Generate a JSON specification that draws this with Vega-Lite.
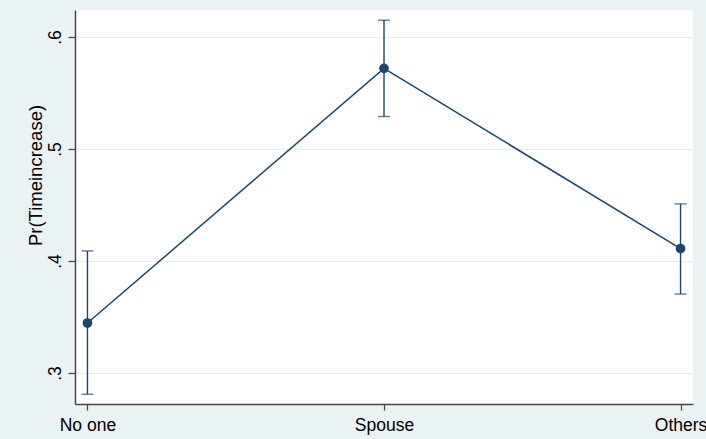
{
  "$schema": "https://vega.github.io/schema/vega-lite/v6.json",
  "autosize": {"type": "none"},
  "width": 618,
  "height": 394,
  "padding": {"left": 75, "top": 10, "right": 13, "bottom": 35},
  "background": "#eaf2f3",
  "config": {
    "view": {"fill": "white", "stroke": null},
    "font": "Liberation Sans"
  },
  "data": {
    "values": [
      {"group": "No one", "margin": 0.3446, "lo": 0.281, "hi": 0.409},
      {"group": "Spouse", "margin": 0.572, "lo": 0.529, "hi": 0.615},
      {"group": "Others", "margin": 0.411, "lo": 0.3705, "hi": 0.451}
    ]
  },
  "encoding": {
    "x": {
      "field": "group",
      "type": "ordinal",
      "sort": ["No one", "Spouse", "Others"],
      "scale": {"type": "point", "padding": 0.042},
      "axis": {
        "title": null,
        "labelAngle": 0,
        "labelFontSize": 17.5,
        "labelColor": "black",
        "labelPadding": 6,
        "tickSize": 6,
        "tickColor": "#444",
        "tickWidth": 1.2,
        "domainColor": "#444",
        "domainWidth": 1.5,
        "grid": false
      }
    }
  },
  "layer": [
    {
      "mark": {"type": "rule", "color": "#1a476f", "strokeWidth": 1.4},
      "encoding": {
        "y": {"field": "lo", "type": "quantitative"},
        "y2": {"field": "hi"}
      }
    },
    {
      "mark": {"type": "tick", "color": "#1a476f", "size": 12, "thickness": 1.4},
      "encoding": {"y": {"field": "lo", "type": "quantitative"}}
    },
    {
      "mark": {"type": "tick", "color": "#1a476f", "size": 12, "thickness": 1.4},
      "encoding": {"y": {"field": "hi", "type": "quantitative"}}
    },
    {
      "mark": {"type": "line", "color": "#1a476f", "strokeWidth": 1.5},
      "encoding": {
        "y": {
          "field": "margin",
          "type": "quantitative",
          "scale": {"domain": [0.2723, 0.6241], "zero": false, "nice": false},
          "axis": {
            "title": "Pr(Timeincrease)",
            "titleFontSize": 18.5,
            "titleFontWeight": "normal",
            "titleColor": "black",
            "titleAngle": -90,
            "titleAlign": "center",
            "titleBaseline": "middle",
            "titleX": -40,
            "titleY": 165,
            "values": [0.3, 0.4, 0.5, 0.6],
            "labelExpr": "replace(format(datum.value, '.1f'), '0.', '.')",
            "labelAngle": -90,
            "labelAlign": "center",
            "labelBaseline": "bottom",
            "labelFontSize": 17.5,
            "labelColor": "black",
            "labelPadding": 4,
            "tickSize": 7,
            "tickColor": "#444",
            "tickWidth": 1.2,
            "domainColor": "#444",
            "domainWidth": 1.5,
            "grid": true,
            "gridColor": "#e6eef2",
            "gridWidth": 1.2
          }
        }
      }
    },
    {
      "mark": {"type": "point", "filled": true, "opacity": 1, "color": "#1a476f", "size": 95},
      "encoding": {"y": {"field": "margin", "type": "quantitative"}}
    }
  ]
}
